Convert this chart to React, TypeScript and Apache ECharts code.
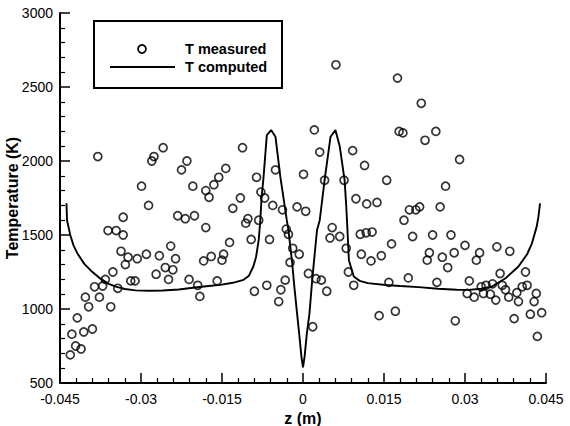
import React, { useEffect, useRef } from "react";
import * as echarts from "echarts";

const xTicks = [-0.045, -0.03, -0.015, 0, 0.015, 0.03, 0.045];
const yTicks = [500, 1000, 1500, 2000, 2500, 3000];

const zMeasured = [
  -0.0380, -0.0299, -0.0276, -0.0280, -0.0259, -0.0215, -0.0225, -0.0204, -0.0180, -0.0174,
  -0.0165, -0.0156, -0.0143, -0.0286, -0.0333, -0.0361, -0.0346, -0.0333, -0.0232, -0.0218,
  -0.0201, -0.0180, -0.0245, -0.0337, -0.0290, -0.0324, -0.0329, -0.0307, -0.0266, -0.0236,
  -0.0255, -0.0241, -0.0272, -0.0249, -0.0319, -0.0311, -0.0352, -0.0366, -0.0371, -0.0386,
  -0.0343, -0.0403, -0.0377, -0.0397, -0.0356, -0.0418, -0.0390, -0.0406, -0.0428, -0.0421,
  -0.0411, -0.0431, -0.0211, -0.0195, -0.0191, -0.0184, -0.0170, -0.0159, -0.0150, -0.0147,
  0.0061, 0.0021, -0.0112, 0.0031, 0.0092, 0.0114, -0.0051, 0.0001, -0.0086, 0.0040,
  0.0076, 0.0155, -0.0078, -0.0071, -0.0116, -0.0130, -0.0056, -0.0038, -0.0011, 0.0005,
  0.0098, 0.0118, 0.0137, -0.0102, -0.0106, -0.0082, -0.0031, -0.0027, 0.0054, 0.0050,
  0.0068, 0.0106, 0.0117, 0.0128, -0.0136, -0.0096, -0.0062, -0.0019, -0.0007, -0.0024,
  0.0080, 0.0108, 0.0126, 0.0145, 0.0164, 0.0010, 0.0024, 0.0034, 0.0044, -0.0033,
  -0.0041, -0.0067, -0.0090, -0.0045, 0.0084, 0.0094, 0.0159, 0.0141, 0.0018, 0.0171,
  0.0175, 0.0219, 0.0178, 0.0185, 0.0246, 0.0226, 0.0290, 0.0264, 0.0197, 0.0209,
  0.0216, 0.0254, 0.0187, 0.0203, 0.0240, 0.0274, 0.0300, 0.0234, 0.0230, 0.0258,
  0.0280, 0.0268, 0.0327, 0.0321, 0.0359, 0.0383, 0.0195, 0.0248, 0.0308, 0.0365,
  0.0412, 0.0282, 0.0304, 0.0317, 0.0330, 0.0339, 0.0351, 0.0334, 0.0347, 0.0357,
  0.0369, 0.0375, 0.0381, 0.0396, 0.0399, 0.0406, 0.0415, 0.0432, 0.0428, 0.0421,
  0.0442, 0.0391, 0.0434,
];
const tMeasured = [
  2030, 1830, 2030, 2000, 2090, 2000, 1940, 1830, 1800, 1755,
  1840, 1890, 1950, 1700, 1620, 1530, 1530, 1500, 1630, 1610,
  1630, 1550, 1425, 1390, 1370, 1350, 1300, 1340, 1360, 1340,
  1280, 1265, 1235, 1200, 1190, 1190, 1250, 1200, 1155, 1150,
  1140, 1080, 1080, 1015, 1015, 940, 865, 845, 830, 750,
  730, 690, 1200, 1160, 1085, 1325, 1355, 1190, 1330, 1370,
  2650, 2210, 2090, 2060, 2070, 1970, 1940, 1910, 1890, 1870,
  1870, 1870, 1790, 1750, 1750, 1680, 1700, 1670, 1690, 1660,
  1745, 1710, 1720, 1610, 1580, 1600, 1540, 1505, 1550, 1480,
  1490, 1505, 1515, 1520, 1450, 1470, 1470, 1410, 1370, 1315,
  1410, 1370, 1325, 1360, 1440, 1240, 1205, 1195, 1120, 1195,
  1130, 1160, 1120, 1050, 1250, 1160, 1180, 955, 880, 985,
  2560, 2390, 2200, 2190, 2200, 2140, 2010, 1830, 1670, 1670,
  1690, 1690, 1600, 1490, 1500, 1500, 1430, 1380, 1330, 1350,
  1380, 1280, 1380, 1330, 1420, 1390, 1210, 1180, 1190, 1240,
  1250, 920, 1105, 1080, 1150, 1160, 1170, 1105, 1100, 1060,
  1160, 1130, 1080, 1110, 1050, 1150, 1160, 1105, 1050, 965,
  975, 935, 815,
];

const zComputed = [
  -0.0438, -0.0437, -0.0431, -0.0425, -0.0418, -0.0405, -0.0391, -0.0375, -0.0360, -0.0345,
  -0.0330, -0.0310, -0.0285, -0.0260, -0.0230, -0.0200, -0.0175, -0.0153, -0.0130, -0.0110,
  -0.0100, -0.0092, -0.0087, -0.0082, -0.0079, -0.0077, -0.0073, -0.0067, -0.0059, -0.0051,
  -0.0042, -0.0030, -0.0027, -0.0020, -0.0016, -0.0011, -0.0007, -0.0003, 0,
  0.0003, 0.0007, 0.0012, 0.0016, 0.0020, 0.0026, 0.0031, 0.0040, 0.0051, 0.0060,
  0.0068, 0.0077, 0.0080, 0.0082, 0.0085, 0.0094, 0.0105, 0.0120, 0.0153, 0.0180,
  0.0214, 0.0250, 0.0285, 0.0307, 0.0330, 0.0350, 0.0375, 0.0399, 0.0415, 0.0424,
  0.0433, 0.0436, 0.0439,
];
const tComputed = [
  1715, 1600, 1500, 1430, 1377, 1305, 1253, 1205, 1170, 1150,
  1135, 1126, 1123, 1125, 1132, 1145, 1155, 1163, 1177, 1197,
  1225, 1287, 1350, 1467, 1602, 1737, 1894, 2175, 2209, 2164,
  1894, 1600, 1534, 1310, 1150, 970, 830, 680, 605,
  680, 830, 970, 1150, 1310, 1534, 1600, 1871, 2164, 2209,
  2100, 1871, 1700, 1560, 1330, 1219, 1190, 1175, 1162, 1155,
  1148, 1137, 1130, 1129, 1137, 1152, 1208, 1287, 1370, 1444,
  1560, 1624, 1714,
];

const FONT = "'Liberation Sans', Arial, Helvetica, sans-serif";

export default function App() {
  const ref = useRef<HTMLDivElement>(null);
  useEffect(() => {
    if (!ref.current) return;
    const chart = echarts.init(ref.current, undefined, { renderer: "svg" });
    const measured = zMeasured.map((z, i) => [z, tMeasured[i]]);
    const computed = zComputed.map((z, i) => [z, tComputed[i]]);
    const axisCommon = {
      axisTick: { show: true, inside: true, length: 10, lineStyle: { color: "#000", width: 1.5 } },
      minorTick: { show: true, splitNumber: 5, length: 5, lineStyle: { color: "#000", width: 1.2 } },
      splitLine: { show: false },
      nameTextStyle: { color: "#000", fontSize: 16, fontWeight: "bold", fontFamily: FONT },
    };
    const labelCommon = { color: "#000", fontSize: 14, fontFamily: FONT };
    chart.setOption({
      animation: false,
      backgroundColor: "#fff",
      grid: {
        left: 60,
        right: 24,
        top: 13,
        bottom: 43,
        containLabel: false,
        outerBoundsMode: "none",
      },
      xAxis: {
        type: "value",
        min: xTicks[0],
        max: xTicks[xTicks.length - 1],
        interval: 0.015,
        name: "z (m)",
        nameLocation: "middle",
        nameGap: 24,
        axisLine: { show: true, onZero: false, lineStyle: { color: "#000", width: 2 } },
        ...axisCommon,
        axisLabel: {
          ...labelCommon,
          margin: 9,
          showMinLabel: true,
          showMaxLabel: true,
          formatter: (v: number) => String(Math.round(v * 1000) / 1000),
        },
      },
      yAxis: {
        type: "value",
        min: yTicks[0],
        max: yTicks[yTicks.length - 1],
        interval: 500,
        axisLine: { show: true, onZero: false, lineStyle: { color: "#000", width: 2 } },
        ...axisCommon,
        axisLabel: { ...labelCommon, margin: 7, formatter: (v: number) => String(v) },
      },
      series: [
        {
          type: "line",
          data: computed,
          showSymbol: false,
          symbol: "none",
          lineStyle: { color: "#000", width: 1.9 },
          z: 2,
        },
        {
          type: "scatter",
          data: measured,
          symbol: "circle",
          symbolSize: 8,
          itemStyle: { color: "rgba(0,0,0,0)", borderColor: "#000", borderWidth: 1.7 },
          z: 3,
        },
      ],
      graphic: [
        {
          type: "text",
          x: 12,
          y: 198,
          rotation: Math.PI / 2,
          style: {
            text: "Temperature (K)",
            fill: "#000",
            font: `bold 16px ${FONT}`,
            align: "center",
            verticalAlign: "middle",
          },
          z: 11,
        },
        {
          type: "rect",
          shape: { x: 94, y: 21, width: 188, height: 67 },
          style: { fill: "#fff", stroke: "#000", lineWidth: 2 },
          z: 10,
        },
        {
          type: "circle",
          shape: { cx: 142, cy: 49, r: 4 },
          style: { fill: "none", stroke: "#000", lineWidth: 1.7 },
          z: 11,
        },
        {
          type: "line",
          shape: { x1: 110, y1: 67, x2: 175, y2: 67 },
          style: { stroke: "#000", lineWidth: 1.9 },
          z: 11,
        },
        {
          type: "text",
          x: 185,
          y: 49,
          style: {
            text: "T measured",
            fill: "#000",
            font: `bold 14.5px ${FONT}`,
            verticalAlign: "middle",
          },
          z: 11,
        },
        {
          type: "text",
          x: 185,
          y: 67,
          style: {
            text: "T computed",
            fill: "#000",
            font: `bold 14.5px ${FONT}`,
            verticalAlign: "middle",
          },
          z: 11,
        },
      ],
    });
    return () => chart.dispose();
  }, []);
  return (
    <div
      ref={ref}
      style={{ position: "fixed", left: 0, top: 0, width: 570, height: 426, background: "#fff" }}
    />
  );
}
